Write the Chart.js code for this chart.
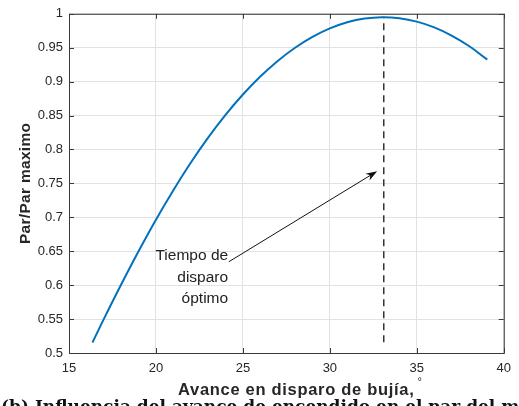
<!DOCTYPE html>
<html>
<head>
<meta charset="utf-8">
<script src="https://cdn.jsdelivr.net/npm/chart.js@4/dist/chart.umd.min.js"></script>
<style>
  html, body { margin: 0; padding: 0; background: #fff; }
  #wrap { width: 519px; height: 406px; }
</style>
</head>
<body>
<div id="wrap"><canvas id="torqueChart" width="519" height="406"></canvas></div>
<script>
// avance de encendido (grados) y par relativo
const avance = [16.35, 17, 18, 19, 20, 21, 22, 23, 24, 25, 26, 27, 28, 29, 30, 31, 32, 33, 34, 35, 36, 37, 38, 39, 39.05];
const parRel = [0.5155, 0.550, 0.601, 0.650, 0.6965, 0.740, 0.7805, 0.8175, 0.851, 0.881, 0.9075, 0.9305, 0.950, 0.966, 0.9785, 0.9875, 0.993, 0.995, 0.9935, 0.9885, 0.980, 0.968, 0.9525, 0.9335, 0.9325];

// linea vertical del punto optimo
const optimoX = [33.1, 33.1];
const optimoY = [0.516, 0.9956];

// flecha y texto de la anotacion (coordenadas de datos)
const flechaDesde = [24.19, 0.6345];
const flechaHasta = [32.72, 0.768];
const textoAnot = ["Tiempo de", "disparo", "óptimo"];
const textoX = 24.15;
const textoY = [0.6365, 0.605, 0.5735];

const xTicks = [15, 20, 25, 30, 35, 40];
const yTicks = [0.5, 0.55, 0.6, 0.65, 0.7, 0.75, 0.8, 0.85, 0.9, 0.95, 1];

const FONT = "'Liberation Sans', Arial, Helvetica, sans-serif";

const frame = {
  id: "frame",
  beforeDatasetsDraw(chart) {
    const { ctx, chartArea: a, scales } = chart;
    ctx.save();
    ctx.strokeStyle = "#3a3a3a";
    ctx.lineWidth = 1;
    ctx.strokeRect(a.left + 0.5, a.top + 0.5, a.right - a.left, a.bottom - a.top);
    ctx.beginPath();
    xTicks.forEach(v => {
      const px = Math.round(scales.x.getPixelForValue(v)) + 0.5;
      ctx.moveTo(px, a.bottom); ctx.lineTo(px, a.bottom - 5);
      ctx.moveTo(px, a.top); ctx.lineTo(px, a.top + 5);
    });
    yTicks.forEach(v => {
      const py = Math.round(scales.y.getPixelForValue(v)) + 0.5;
      ctx.moveTo(a.left, py); ctx.lineTo(a.left + 5, py);
      ctx.moveTo(a.right, py); ctx.lineTo(a.right - 5, py);
    });
    ctx.stroke();
    ctx.restore();
  },
  afterDraw(chart) {
    const { ctx, chartArea: a, scales } = chart;
    const sx = v => scales.x.getPixelForValue(v);
    const sy = v => scales.y.getPixelForValue(v);
    ctx.save();

    // flecha
    const x0 = sx(flechaDesde[0]), y0 = sy(flechaDesde[1]);
    const x1 = sx(flechaHasta[0]), y1 = sy(flechaHasta[1]);
    const ang = Math.atan2(y1 - y0, x1 - x0);
    ctx.strokeStyle = "#111";
    ctx.fillStyle = "#111";
    ctx.lineWidth = 1;
    ctx.beginPath();
    ctx.moveTo(x0, y0);
    ctx.lineTo(x1 - 6 * Math.cos(ang), y1 - 6 * Math.sin(ang));
    ctx.stroke();
    ctx.beginPath();
    ctx.moveTo(x1, y1);
    ctx.lineTo(x1 - 12 * Math.cos(ang - 0.33), y1 - 12 * Math.sin(ang - 0.33));
    ctx.lineTo(x1 - 8 * Math.cos(ang), y1 - 8 * Math.sin(ang));
    ctx.lineTo(x1 - 12 * Math.cos(ang + 0.33), y1 - 12 * Math.sin(ang + 0.33));
    ctx.closePath();
    ctx.fill();

    // texto de la anotacion
    ctx.font = "15.5px " + FONT;
    ctx.fillStyle = "#222";
    ctx.textAlign = "right";
    ctx.textBaseline = "alphabetic";
    textoAnot.forEach((t, i) => ctx.fillText(t, sx(textoX), sy(textoY[i])));

    // titulos de los ejes
    ctx.fillStyle = "#262626";
    ctx.font = "bold 16.5px " + FONT;
    ctx.textAlign = "left";
    ctx.letterSpacing = "0.7px";
    const titulo = "Avance en disparo de bujía,";
    ctx.fillText(titulo, 178, 395);
    const w = ctx.measureText(titulo).width;
    ctx.letterSpacing = "0px";
    ctx.font = "11px " + FONT;
    ctx.fillText("°", 178 + w + 3, 385);

    ctx.save();
    ctx.translate(30, (a.top + a.bottom) / 2);
    ctx.rotate(-Math.PI / 2);
    ctx.textAlign = "center";
    ctx.font = "bold 15.5px " + FONT;
    ctx.letterSpacing = "0.3px";
    ctx.fillText("Par/Par maximo", 0, 0);
    ctx.restore();

    // pie de figura (cortado por el borde inferior)
    ctx.letterSpacing = "0px";
    ctx.fillStyle = "#111";
    ctx.font = "bold 17px 'DejaVu Serif', 'Liberation Serif', serif";
    ctx.textAlign = "left";
    ctx.fillText("(b) Influencia del avance de encendido en el par del motor", 1, 412);
    ctx.restore();
  }
};

new Chart(document.getElementById("torqueChart").getContext("2d"), {
  type: "scatter",
  data: {
    datasets: [
      {
        label: "Par relativo",
        data: avance.map((x, i) => ({ x, y: parRel[i] })),
        showLine: true,
        borderColor: "#0072BD",
        borderWidth: 2,
        pointRadius: 0,
        tension: 0.4,
        fill: false
      },
      {
        label: "Optimo",
        data: optimoX.map((x, i) => ({ x, y: optimoY[i] })),
        showLine: true,
        borderColor: "#262626",
        borderWidth: 1.4,
        borderDash: [7, 5],
        pointRadius: 0,
        fill: false
      }
    ]
  },
  options: {
    responsive: false,
    animation: false,
    layout: { padding: { top: 10, right: 10, left: 0, bottom: 0 } },
    plugins: { legend: { display: false }, tooltip: { enabled: false } },
    scales: {
      x: {
        type: "linear",
        min: 15, max: 40,
        afterFit(scale) { scale.height = 53; },
        afterBuildTicks(scale) { scale.ticks = xTicks.map(v => ({ value: v })); },
        grid: { color: "#e2e2e2", drawTicks: false },
        border: { display: false },
        ticks: { padding: 8, color: "#262626", font: { family: FONT, size: 13 } }
      },
      y: {
        type: "linear",
        min: 0.5, max: 1,
        afterFit(scale) { scale.width = 69; },
        afterBuildTicks(scale) { scale.ticks = yTicks.map(v => ({ value: v })); },
        grid: { color: "#e2e2e2", drawTicks: false },
        border: { display: false },
        ticks: {
          padding: 6, color: "#262626", font: { family: FONT, size: 13 },
          callback: v => String(+v.toFixed(2))
        }
      }
    }
  },
  plugins: [frame]
});
</script>
</body>
</html>
